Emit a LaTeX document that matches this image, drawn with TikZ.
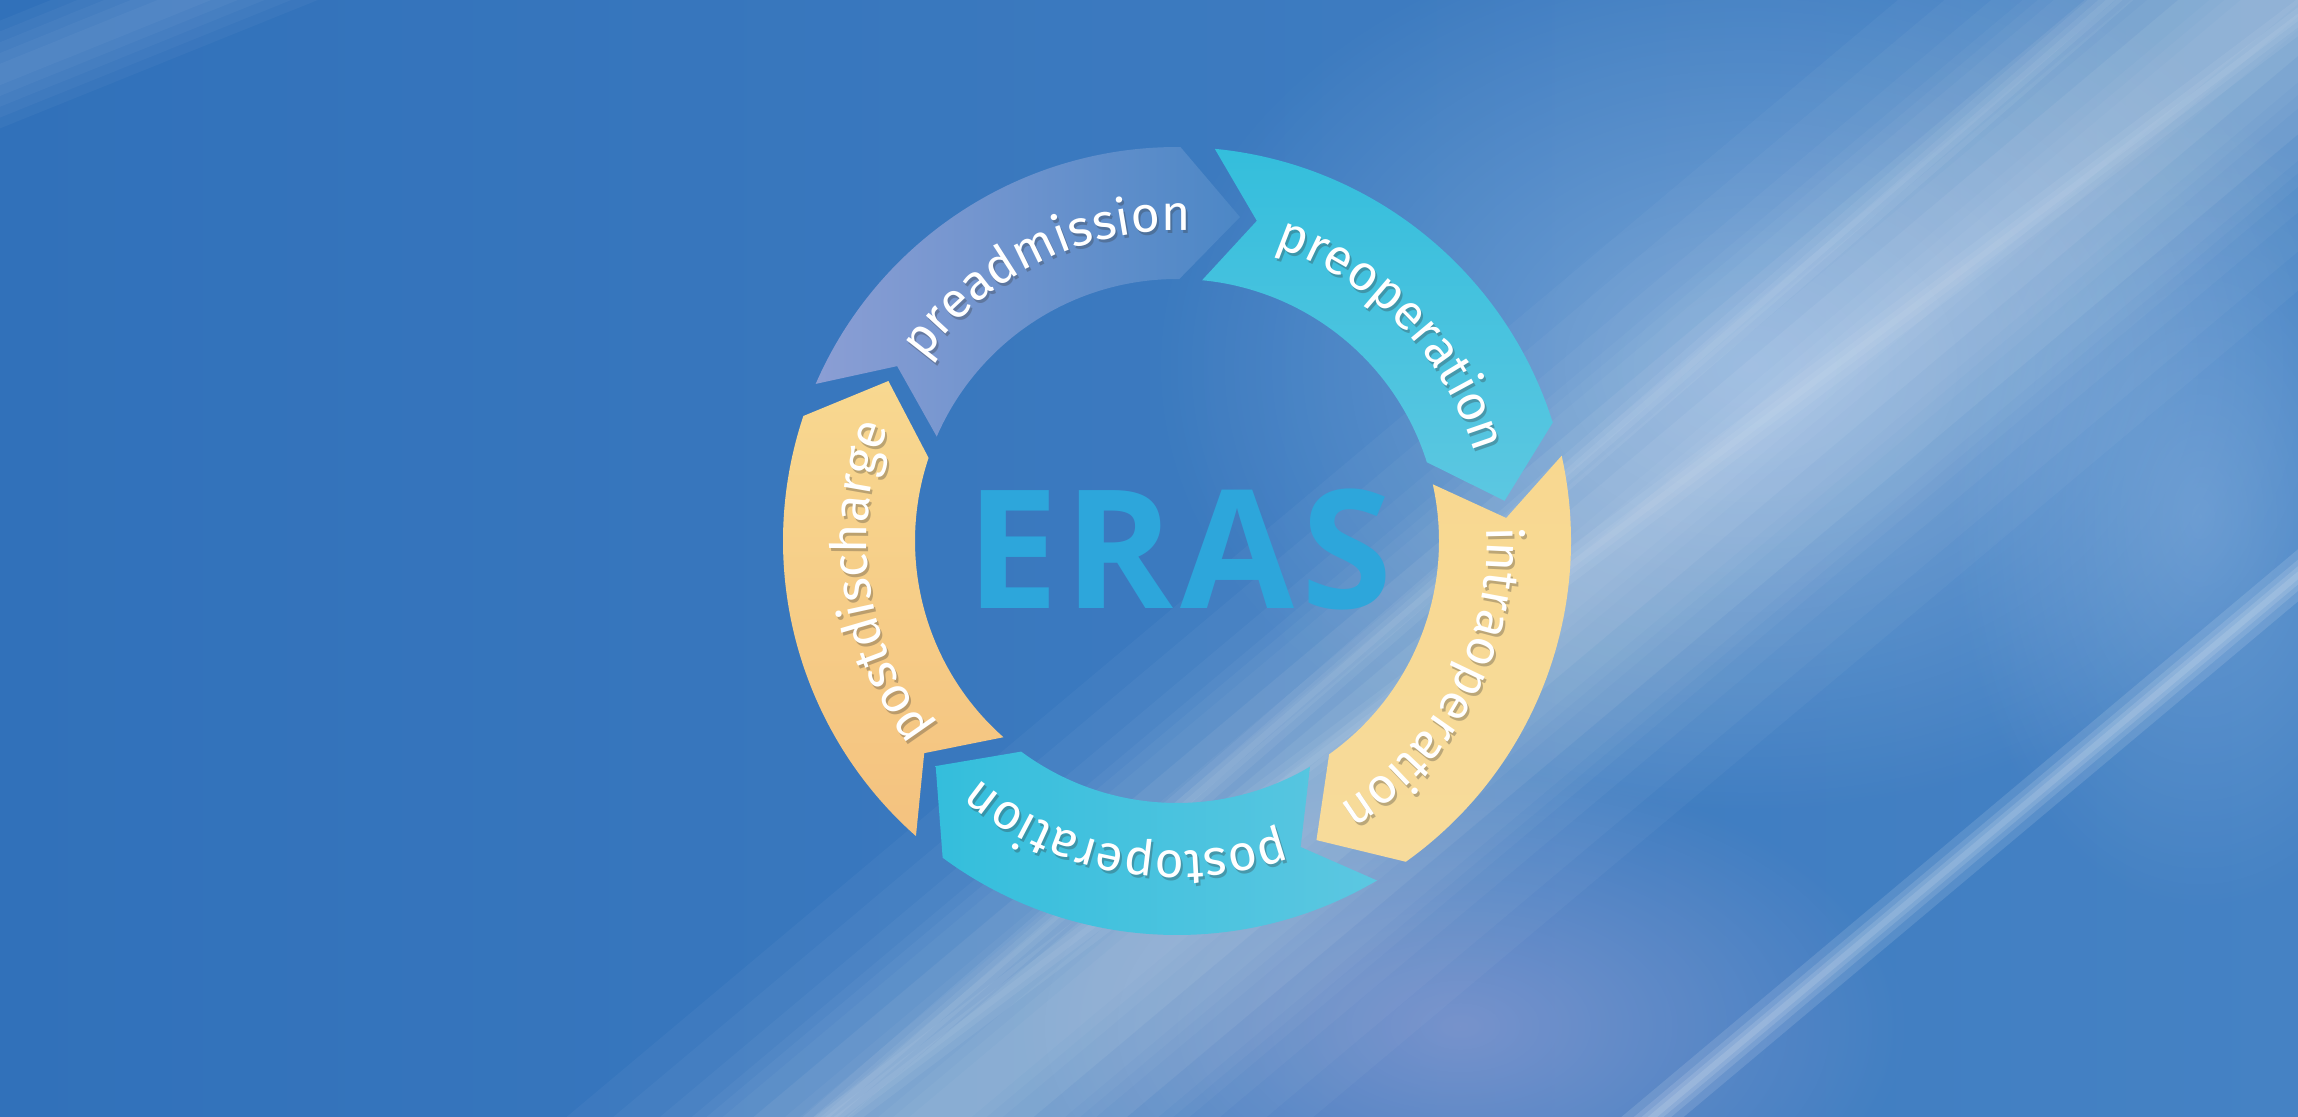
\documentclass[tikz,border=0pt]{standalone}
\usepackage{fontspec}
\setmainfont{Fira Sans}
\newfontfamily\labelfont{Fira Sans}
\newfontfamily\erasfont{Open Sans}
\usetikzlibrary{decorations.text,fadings}
\definecolor{bgL}{HTML}{3171BA}
\definecolor{bgR}{HTML}{4582C4}
\definecolor{glow}{HTML}{B5D0EE}
\definecolor{lav}{HTML}{A6A6D6}
\definecolor{erasc}{HTML}{2DA6DB}
\definecolor{paA}{HTML}{8B9ED4}
\definecolor{paB}{HTML}{4C87C6}
\definecolor{cyA}{HTML}{34BEDC}
\definecolor{cyB}{HTML}{5CC7E1}
\definecolor{yeA}{HTML}{F8D890}
\definecolor{yeM}{HTML}{F5CD8C}
\definecolor{yeB}{HTML}{F7DB9B}
\definecolor{orB}{HTML}{F4C27F}
\tikzfading[name=softglow, inner color=transparent!0, outer color=transparent!100]
\def\Ro{3.94}
\def\Ri{2.62}
\def\Rm{3.30}
\def\Rt{3.10}
\tikzset{
  softband/.style={white, opacity=0.035},
  thinband/.style={white, opacity=0.12},
  labeltext/.style={decorate, decoration={text along path, text align=center,
      text={|\labelfont\fontsize{14.2}{15}\selectfont\color{white}|#1}}},
  shadowtext/.style={decorate, decoration={text along path, text align=center,
      text={|\labelfont\fontsize{14.2}{15}\selectfont\color{black!80}|#1}}}
}
% ring segment: #1 = tail angle, #2 = shading options
\newcommand{\ringseg}[2]{%
  \shade[#2] (#1:\Ro) arc[start angle=#1, end angle=#1-67, radius=\Ro]
    -- ({#1-77.5}:\Rm) -- ({#1-67}:\Ri)
    arc[start angle=#1-67, end angle=#1, radius=\Ri]
    -- ({#1-8.5}:\Rm) -- cycle;}
% curved label: #1 = centre angle, #2 = text
\newcommand{\ringlabel}[2]{%
  \begin{scope}[shift={(0.02,-0.03)}, opacity=0.3]
    \path[shadowtext={#2}] ({#1+45}:\Rt) arc[start angle=#1+45, end angle=#1-45, radius=\Rt];
  \end{scope}
  \path[labeltext={#2}] ({#1+45}:\Rt) arc[start angle=#1+45, end angle=#1-45, radius=\Rt];}
\begin{document}
\begin{tikzpicture}
\useasboundingbox (0,0) rectangle (22.98,11.16);
\clip (0,0) rectangle (22.98,11.16);
% background
\shade[left color=bgL, right color=bgR] (0,0) rectangle (22.98,11.16);
% soft glows
\fill[glow, opacity=0.45, path fading=softglow] (17.5,7.5) ellipse[x radius=6, y radius=4.5];
\fill[lav, opacity=0.55, path fading=softglow] (14.6,0.9) ellipse[x radius=4.5, y radius=2.6];
\fill[glow, opacity=0.3, path fading=softglow] (22.0,6.0) ellipse[x radius=2.5, y radius=4];
% broad soft diagonal light bands
\begin{scope}[shift={(16.8,6.2)}, rotate=40]
  \foreach \w in {0.3,0.6,...,2.7} \fill[softband] (-20,-\w) rectangle (20,\w);
\end{scope}
\begin{scope}[shift={(20.5,9.3)}, rotate=40]
  \foreach \w in {0.2,0.4,...,1.6} \fill[softband] (-20,-\w) rectangle (20,\w);
\end{scope}
\begin{scope}[shift={(1.2,10.9)}, rotate=22]
  \foreach \w in {0.1,0.2,...,0.5} \fill[softband] (-3,-\w) rectangle (3,\w);
\end{scope}
% thin streaks
\begin{scope}[shift={(19.79,2.73)}, rotate=40]
  \foreach \w in {0.03,0.07,0.12,0.2} \fill[thinband] (-20,-\w) rectangle (20,\w);
\end{scope}
\begin{scope}[shift={(8.4,0)}, rotate=37]
  \foreach \w in {0.03,0.08,0.15} \fill[white, opacity=0.06] (-2,-\w) rectangle (30,\w);
\end{scope}
\begin{scope}[shift={(20.0,10.2)}, rotate=41]
  \foreach \w in {0.03,0.08,0.15} \fill[white, opacity=0.06] (-20,-\w) rectangle (20,\w);
\end{scope}
% ring
\begin{scope}[shift={(11.77,5.75)}]
  \ringseg{84.5}{top color=cyA, bottom color=cyB}
  \ringseg{12.5}{top color=yeA, middle color=yeM, bottom color=yeB}
  \ringseg{-59.5}{left color=cyA, right color=cyB}
  \ringseg{-131.5}{top color=yeA, bottom color=orB}
  \ringseg{156.5}{left color=paA, right color=paB}
  \ringlabel{116}{preadmission}
  \ringlabel{44}{preoperation}
  \ringlabel{-28}{intraoperation}
  \ringlabel{-100}{postoperation}
  \ringlabel{188}{postdischarge}
\end{scope}
\node[font=\erasfont\bfseries\fontsize{47}{47}\selectfont, text=erasc, inner sep=0pt] (eras) at (11.79,5.67) {E\kern0.065cm R\kern0.065cm A\kern0.065cm S};
\end{tikzpicture}
\end{document}
